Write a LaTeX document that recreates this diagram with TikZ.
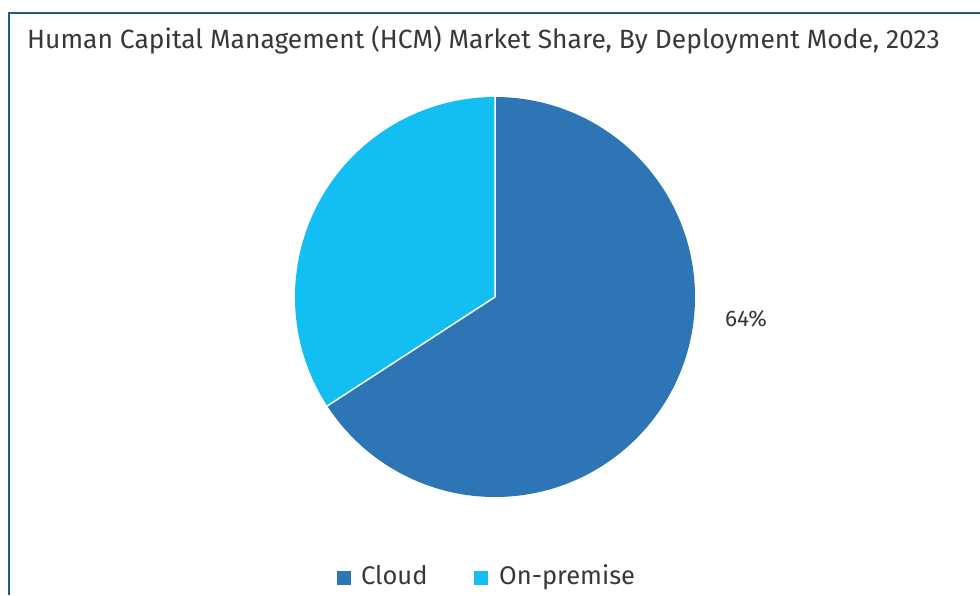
\documentclass[tikz,border=0pt]{standalone}
\usepackage{fontspec}
\setmainfont{Fira Sans}
\usepackage{xcolor}
\usepackage{tikz}
\usetikzlibrary{calc,positioning}

\definecolor{frameblue}{HTML}{1B5E85}
\definecolor{cloudblue}{HTML}{2E75B6}
\definecolor{premblue}{HTML}{13BEF2}
\definecolor{txtgray}{HTML}{383838}

\tikzset{
  slice/.style={draw=white, line width=1.5pt, line join=round},
  legbox/.style={minimum size=13.5pt, inner sep=0pt},
  legtxt/.style={text=txtgray, font=\fontsize{25.5}{28}\selectfont, inner sep=0pt,
    text height=13pt, text depth=0pt}
}

\begin{document}
\begin{tikzpicture}[x=1pt,y=1pt]
\useasboundingbox (0,0) rectangle (980,595);

%Frame
\draw[frameblue, line width=1.2pt] (9,582) -- (980,582);
\draw[frameblue, line width=2.8pt] (9,582.6) -- (9,0);

%Title
\node[anchor=west, text=txtgray, font=\fontsize{26.4}{29}\selectfont, inner sep=0pt] (title) at (27,555)
  {Human Capital Management (HCM) Market Share, By Deployment Mode, 2023};

%Slices
\coordinate (c) at (495,298);
\fill[cloudblue] (c) -- ($(c)+(90:200pt)$) arc[start angle=90, end angle=-147, radius=200pt] -- cycle;
\fill[premblue] (c) -- ($(c)+(-147:200pt)$) arc[start angle=-147, end angle=-270, radius=200pt] -- cycle;
\coordinate (top) at ($(c)+(90:200pt)$);
\coordinate (cut) at ($(c)+(-147:200pt)$);
\draw[slice] (top) -- (c) -- (cut);

%Value
\node[legtxt, font=\fontsize{22.5}{26}\selectfont] (val) at (746,275) {64\%};

%Legend
\node[legbox, fill=cloudblue] (sqcloud) at (344,17) {};
\node[legtxt, anchor=west] (lcloud) at (361,17) {Cloud};
\node[legbox, fill=premblue] (sqprem) at (481,17) {};
\node[legtxt, anchor=west] (lprem) at (499,17) {On-premise};

\end{tikzpicture}
\end{document}
